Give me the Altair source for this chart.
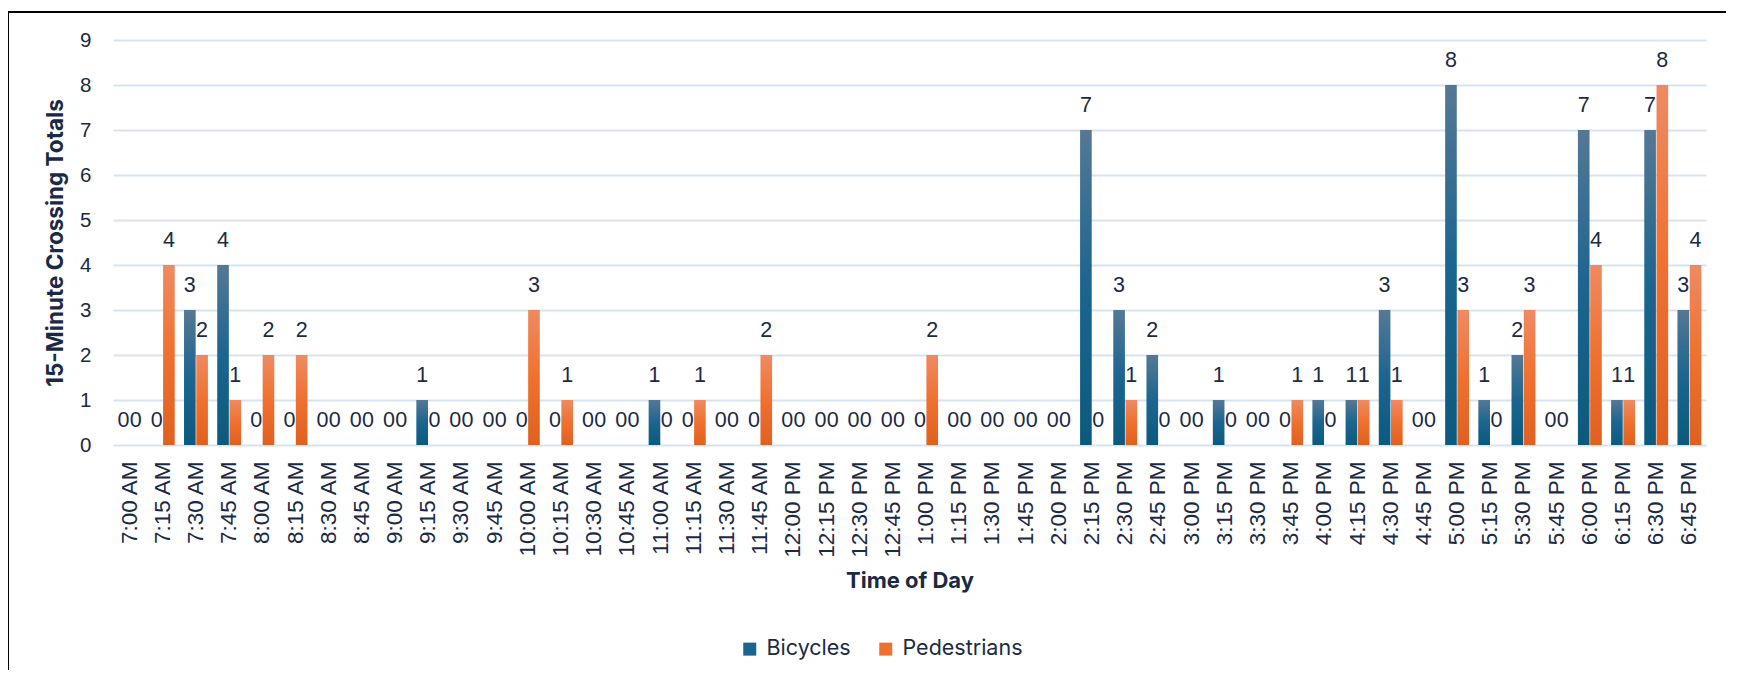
import altair as alt
import pandas as pd

times = ["7:00 AM", "7:15 AM", "7:30 AM", "7:45 AM", "8:00 AM", "8:15 AM", "8:30 AM", "8:45 AM",
         "9:00 AM", "9:15 AM", "9:30 AM", "9:45 AM", "10:00 AM", "10:15 AM", "10:30 AM", "10:45 AM",
         "11:00 AM", "11:15 AM", "11:30 AM", "11:45 AM", "12:00 PM", "12:15 PM", "12:30 PM", "12:45 PM",
         "1:00 PM", "1:15 PM", "1:30 PM", "1:45 PM", "2:00 PM", "2:15 PM", "2:30 PM", "2:45 PM",
         "3:00 PM", "3:15 PM", "3:30 PM", "3:45 PM", "4:00 PM", "4:15 PM", "4:30 PM", "4:45 PM",
         "5:00 PM", "5:15 PM", "5:30 PM", "5:45 PM", "6:00 PM", "6:15 PM", "6:30 PM", "6:45 PM"]
bicycles = [0, 0, 3, 4, 0, 0, 0, 0,
            0, 1, 0, 0, 0, 0, 0, 0,
            1, 0, 0, 0, 0, 0, 0, 0,
            0, 0, 0, 0, 0, 7, 3, 2,
            0, 1, 0, 0, 1, 1, 3, 0,
            8, 1, 2, 0, 7, 1, 7, 3]
pedestrians = [0, 4, 2, 1, 2, 2, 0, 0,
               0, 0, 0, 0, 3, 1, 0, 0,
               0, 1, 0, 2, 0, 0, 0, 0,
               2, 0, 0, 0, 0, 0, 1, 0,
               0, 0, 0, 1, 0, 1, 1, 0,
               3, 0, 3, 0, 4, 1, 8, 4]
series_names = ["Bicycles", "Pedestrians"]
y_ticks = [0, 1, 2, 3, 4, 5, 6, 7, 8, 9]

rows = []
for t, b, p in zip(times, bicycles, pedestrians):
    rows.append({"time": t, "series": "Bicycles", "value": b})
    rows.append({"time": t, "series": "Pedestrians", "value": p})
df = pd.DataFrame(rows)

TEXT = "#1B2A44"
GRID = "#D5E3F3"
NUMFONT = "Liberation Sans"
TITLEFONT = "Inter"

grad_blue = {"gradient": "linear", "x1": 0, "y1": 0, "x2": 0, "y2": 1,
             "stops": [{"offset": 0, "color": "#557895"},
                       {"offset": 0.5, "color": "#1B6590"},
                       {"offset": 1, "color": "#0B5A7E"}]}
grad_orange = {"gradient": "linear", "x1": 0, "y1": 0, "x2": 0, "y2": 1,
               "stops": [{"offset": 0, "color": "#EE8A62"},
                         {"offset": 0.5, "color": "#F0712F"},
                         {"offset": 1, "color": "#E0601F"}]}

x_enc = alt.X("time:N", sort=times,
              scale=alt.Scale(paddingInner=0.28, paddingOuter=0.14),
              axis=alt.Axis(title="Time of Day", labelAngle=-90, labelFont=NUMFONT,
                            labelFontSize=22.5, labelColor=TEXT, labelPadding=16,
                            ticks=False, domain=False, grid=False,
                            titleFont=TITLEFONT, titleFontSize=22, titleFontWeight="bold",
                            titleColor=TEXT, titleBaseline="middle", titleY=135))
xo_enc = alt.XOffset("series:N", sort=series_names, scale=alt.Scale(paddingInner=0.05))
y_enc = alt.Y("value:Q", scale=alt.Scale(domain=[0, 9], nice=False),
              axis=alt.Axis(title="15-Minute Crossing Totals", values=y_ticks, format="d",
                            labelFont=NUMFONT, labelFontSize=20.5, labelColor=TEXT,
                            labelPadding=22, ticks=False, domain=False,
                            gridColor=GRID, gridWidth=2,
                            titleFont=TITLEFONT, titleFontSize=22.5, titleFontWeight="bold",
                            titleColor=TEXT, titleBaseline="middle", titleX=-58))

color_enc = alt.Color("series:N", sort=series_names,
                      scale=alt.Scale(domain=series_names, range=["#1A6590", "#EF7130"]),
                      legend=alt.Legend(title=None, orient="none", legendX=626, legendY=598,
                                        direction="horizontal", symbolType="square",
                                        symbolSize=169, symbolStrokeWidth=0,
                                        labelFont=TITLEFONT, labelFontSize=21.5,
                                        labelColor=TEXT, columnPadding=24, labelOffset=6),
                      condition=[{"test": "datum.series === 'Bicycles'", "value": grad_blue},
                                 {"test": "datum.series === 'Pedestrians'", "value": grad_orange}])

base = alt.Chart(df)
bars = base.mark_bar().encode(x=x_enc, xOffset=xo_enc, y=y_enc, color=color_enc)
labels = base.mark_text(dy=-18, baseline="alphabetic", font=NUMFONT, fontSize=21.5,
                        color=TEXT).encode(x=x_enc, xOffset=xo_enc, y=y_enc,
                                           text=alt.Text("value:Q", format="d"))

frame = alt.Chart(pd.DataFrame({"f": [0]})).mark_rect(
    filled=False, stroke="#000000", strokeWidth=2
).encode(x=alt.value(-105), x2=alt.value(1621), y=alt.value(-28), y2=alt.value(680))

chart = alt.layer(frame, bars, labels).properties(
    width=1593, height=405,
    padding={"left": 105, "top": 32, "right": 20, "bottom": 225},
    autosize=alt.AutoSizeParams(type="none"),
    background="white",
).configure_view(strokeWidth=0)

chart.save("out.html", embed_options={"renderer": "svg", "actions": False})
